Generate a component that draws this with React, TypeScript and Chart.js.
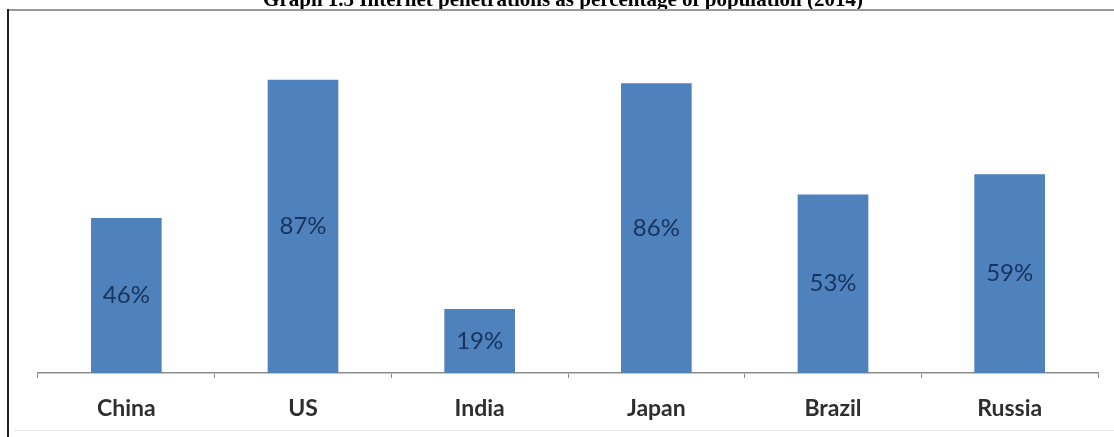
import React, { useEffect, useRef } from "react";
import { Chart, registerables } from "chart.js";

Chart.register(...registerables);

const TITLE = "Graph 1.3 Internet penetrations as percentage of population (2014)";
const categories = ["China", "US", "India", "Japan", "Brazil", "Russia"];
const penetration = [46, 87, 19, 86, 53, 59];
const valueLabels = ["46%", "87%", "19%", "86%", "53%", "59%"];

const framePlugin = {
  id: "frame",
  beforeDraw(chart: any) {
    const ctx = chart.ctx;
    ctx.save();
    ctx.fillStyle = "#ffffff";
    ctx.fillRect(0, 0, chart.width, chart.height);
    // title (cut at top)
    ctx.fillStyle = "#000000";
    ctx.font = "bold 21px 'Liberation Serif', 'Times New Roman', serif";
    ctx.textAlign = "center";
    ctx.textBaseline = "alphabetic";
    ctx.fillText(TITLE, 563, 6);
    // frame
    ctx.strokeStyle = "#9a9a9a";
    ctx.lineWidth = 2;
    ctx.beginPath();
    ctx.moveTo(8, 10);
    ctx.lineTo(chart.width, 10);
    ctx.stroke();
    ctx.strokeStyle = "#222222";
    ctx.lineWidth = 2;
    ctx.beginPath();
    ctx.moveTo(8, 9);
    ctx.lineTo(8, chart.height);
    ctx.stroke();
    ctx.strokeStyle = "#e8e8e8";
    ctx.lineWidth = 1;
    ctx.beginPath();
    ctx.moveTo(14, 430.5);
    ctx.lineTo(chart.width, 430.5);
    ctx.stroke();
    ctx.restore();
  },
};

const valueLabelPlugin = {
  id: "valueLabels",
  afterDatasetsDraw(chart: any) {
    const ctx = chart.ctx;
    const meta = chart.getDatasetMeta(0);
    ctx.save();
    ctx.fillStyle = "#17345f";
    ctx.font = "24px Lato, 'Open Sans', sans-serif";
    ctx.textAlign = "center";
    ctx.textBaseline = "middle";
    meta.data.forEach((bar: any, i: number) => {
      const y = (bar.y + bar.base) / 2;
      ctx.fillText(valueLabels[i], bar.x, y);
    });
    ctx.restore();
  },
};

export default function App() {
  const ref = useRef<HTMLCanvasElement | null>(null);
  useEffect(() => {
    if (!ref.current) return;
    const chart = new Chart(ref.current, {
      type: "bar",
      data: {
        labels: categories,
        datasets: [
          {
            data: penetration,
            backgroundColor: "#4f81bd",
            borderWidth: 0,
            barPercentage: 0.4,
            categoryPercentage: 1,
          },
        ],
      },
      options: {
        responsive: false,
        animation: false,
        layout: { padding: { left: 38, right: 16, top: 36, bottom: 0 } },
        plugins: {
          legend: { display: false },
          tooltip: { enabled: false },
          title: { display: false },
        },
        scales: {
          x: {
            offset: true,
            grid: {
              display: true,
              drawOnChartArea: false,
              drawTicks: true,
              tickLength: 5,
              color: "#8c8c8c",
              offset: true,
            },
            border: { display: true, color: "#8c8c8c", width: 1.5 },
            ticks: {
              color: "#2e2e2e",
              padding: 17,
              font: { family: "Lato, 'Open Sans', sans-serif", size: 23, weight: "bold" },
            },
            afterFit(scale: any) {
              scale.height = 437 - 373;
            },
          },
          y: {
            display: false,
            min: 0,
            max: 100,
          },
        },
      },
      plugins: [framePlugin, valueLabelPlugin],
    });
    return () => chart.destroy();
  }, []);
  return (
    <div style={{ position: "absolute", left: 0, top: 0, width: 1114, height: 437 }}>
      <canvas ref={ref} width={1114} height={437} style={{ display: "block" }} />
    </div>
  );
}
